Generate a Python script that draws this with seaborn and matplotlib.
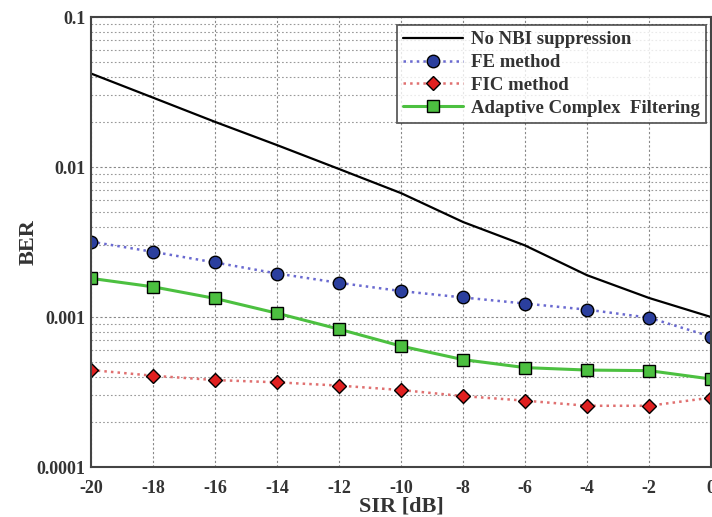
import numpy as np
import pandas as pd
import matplotlib
matplotlib.use("Agg")
import matplotlib.pyplot as plt
import seaborn as sns
from matplotlib.ticker import FixedLocator, LogLocator, NullFormatter

sir = [-20, -18, -16, -14, -12, -10, -8, -6, -4, -2, 0]
no_nbi = [0.042, 0.029, 0.020, 0.0140, 0.0097, 0.0067, 0.0043, 0.0030, 0.0019, 0.00134, 0.0010]
fe = [0.00318, 0.00272, 0.00231, 0.00195, 0.00169, 0.00149, 0.00135, 0.00123, 0.00112, 0.00099, 0.00074]
fic = [0.000443, 0.000406, 0.00038, 0.000367, 0.000349, 0.000326, 0.000297, 0.000277, 0.000256, 0.000256, 0.00029]
acf = [0.00181, 0.00159, 0.00133, 0.00106, 0.00083, 0.00064, 0.00052, 0.00046, 0.000443, 0.000439, 0.000386]
labels = ["No NBI suppression", "FE method", "FIC method", "Adaptive Complex  Filtering"]
yticks = [0.0001, 0.001, 0.01, 0.1]
ytick_labels = ["0.0001", "0.001", "0.01", "0.1"]

sns.set_style("white")
plt.rcParams['font.family'] = ['Liberation Serif', 'DejaVu Serif']

fig = plt.figure(figsize=(7.12, 5.17), dpi=100)
ax = fig.add_axes([0.128, 0.0967, 0.8706, 0.8703])

df = pd.DataFrame({"SIR": sir, "no": no_nbi, "fe": fe, "fic": fic, "acf": acf})

sns.lineplot(data=df, x="SIR", y="no", ax=ax, color="black", linewidth=1.6, label=labels[0])
sns.lineplot(data=df, x="SIR", y="fe", ax=ax, color="#6a6ad0", linestyle=":", linewidth=1.8,
             marker="o", markersize=9, markerfacecolor="#2b3f9e", markeredgecolor="black",
             markeredgewidth=1.0, label=labels[1])
sns.lineplot(data=df, x="SIR", y="fic", ax=ax, color="#e07070", linestyle=":", linewidth=1.8,
             marker="D", markersize=7, markerfacecolor="#e02020", markeredgecolor="black",
             markeredgewidth=1.0, label=labels[2])
sns.lineplot(data=df, x="SIR", y="acf", ax=ax, color="#4cc040", linestyle="-", linewidth=2.2,
             marker="s", markersize=8, markerfacecolor="#4cc040", markeredgecolor="black",
             markeredgewidth=1.0, label=labels[3])

ax.set_yscale("log")
ax.set_ylim(1e-4, 0.1)
ax.set_xlim(-20, 0)
ax.set_xticks(sir)
ax.set_xticklabels([str(s) for s in sir])
ax.yaxis.set_major_locator(FixedLocator(yticks))
ax.set_yticklabels(ytick_labels)
ax.yaxis.set_minor_locator(LogLocator(base=10, subs=np.arange(2, 10)))
ax.yaxis.set_minor_formatter(NullFormatter())

ax.grid(True, which="major", axis="both", color="#888888", linestyle=(0, (2, 2)), linewidth=0.8)
ax.grid(True, which="minor", axis="y", color="#999999", linestyle=(0, (1.5, 2)), linewidth=0.8)
ax.set_axisbelow(True)

for s in ax.spines.values():
    s.set_color("#444444")
    s.set_linewidth(1.5)

ax.tick_params(axis="x", which="major", labelsize=13, colors="#333333", length=4, direction="in", pad=9)
ax.tick_params(axis="y", which="major", labelsize=13, colors="#333333", length=4, direction="in", pad=4)
ax.tick_params(axis="y", which="minor", length=2, direction="in")
for lbl in ax.get_xticklabels() + ax.get_yticklabels():
    lbl.set_fontweight("bold")

ax.set_xlabel("SIR [dB]", fontsize=16, fontweight="bold", color="#333333", labelpad=0)
ax.set_ylabel("BER", fontsize=16, fontweight="bold", color="#333333")
ax.yaxis.set_label_coords(-0.084, 0.5)

leg = ax.legend(loc="upper right", bbox_to_anchor=(0.992, 0.983), frameon=True, fancybox=False,
                edgecolor="#333333", fontsize=13.5, handlelength=3.2, borderpad=0.35,
                labelspacing=0.3, handletextpad=0.4, borderaxespad=0)
leg.get_frame().set_linewidth(1.3)
for t in leg.get_texts():
    t.set_fontweight("bold")
    t.set_color("#333333")

fig.savefig("out.png", dpi=100)
